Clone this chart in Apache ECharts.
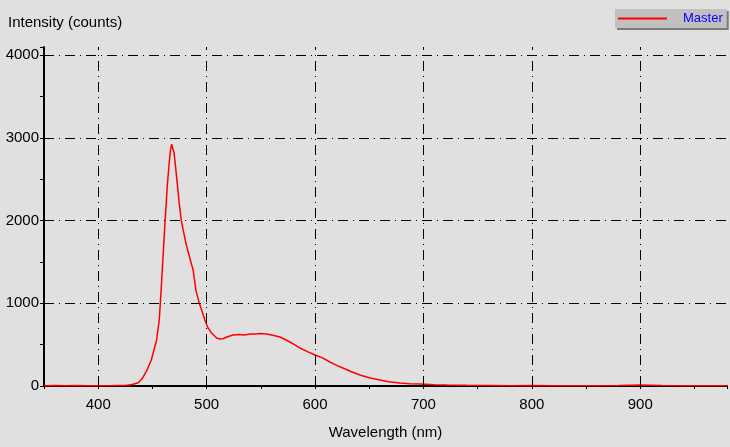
<!DOCTYPE html>
<html>
<head>
<meta charset="utf-8">
<script src="https://cdn.jsdelivr.net/npm/echarts@6/dist/echarts.min.js"></script>
<style>
html,body{margin:0;padding:0;background:#e0e0e0;}
#c{width:730px;height:447px;}
</style>
</head>
<body>
<div id="c"></div>
<script>
// Wavelength (nm)
const wavelengths = [350,360,370,380,390,400,410,420,425,430,433,437,441,445,449,451.4,453.9,456.3,457.1,458,459,460,461,461.7,462.7,463.7,465.5,466.6,467.7,468.4,469.2,470,471,472.9,474.7,476.6,478.5,480.3,482.5,485.5,487.6,490.1,493.2,495.4,498.4,500.9,504.6,509.2,512.3,515,518.7,524.3,530,535,540,545,550,555,560,567.6,572,576.8,581,586.1,593,600,607,613.7,620,625.7,633,641.4,650,659.9,668,678.3,687,696.8,710,721.7,740,760,780,800,820,840,860,880,890,900,910,920,940,960,980];
// Intensity (counts)
const intensity = [3,6,2,5,3,4,2,6,5,14,24,40,97,193,314,435,556,800,960,1150,1380,1610,1840,2000,2200,2420,2700,2840,2925,2890,2905,2820,2695,2453,2212,2006,1880,1764,1644,1500,1402,1160,1003,918,798,713,640,580,568,572,592,616,622,618,628,630,635,628,618,592,565,532,500,459,415,375,340,290,250,218,175,133,100,72,52,36,28,24,16,12,8,6,4,5,3,4,3,7,10,12,9,6,3,2,2];
const xGridValues = [400,500,600,700,800,900];
const yGridValues = [1000,2000,3000,4000];
const seriesName = 'Master';

const chart = echarts.init(document.getElementById('c'), null, {renderer:'canvas'});
const font = 'Liberation Sans, Arial, sans-serif';
const dash = [10,5,1,5];
chart.setOption({
  backgroundColor:'#e0e0e0',
  animation:false,
  textStyle:{fontFamily:font},
  title:{text:'Intensity (counts)', left:8, top:15, padding:0,
    textStyle:{fontFamily:font, fontSize:15, fontWeight:'normal', color:'#000'}},
  legend:{data:[{name:seriesName, icon:'rect'}], left:615, top:9, padding:[3,4,3,3],
    itemWidth:49, itemHeight:2, backgroundColor:'#c0c0c0',
    shadowColor:'#7a7a7a', shadowOffsetX:2, shadowOffsetY:2, shadowBlur:0,
    textStyle:{color:'#0000ff', fontSize:13, fontFamily:font, padding:[0,0,0,11]}},
  grid:{left:44, right:3, top:47, bottom:61},
  xAxis:{type:'value', min:350, max:980, interval:50,
    name:'Wavelength (nm)', nameLocation:'middle', nameGap:39,
    nameTextStyle:{fontFamily:font, fontSize:15, color:'#000'},
    axisLine:{lineStyle:{color:'#000', width:2}},
    axisTick:{length:3, lineStyle:{color:'#000'}},
    axisLabel:{margin:11, color:'#000', fontSize:15, fontFamily:font,
      formatter:v=> (v%100===0 ? String(v) : '')},
    splitLine:{show:false}},
  yAxis:{type:'value', min:0, max:4100, interval:500,
    axisLine:{show:true, lineStyle:{color:'#000', width:2}},
    axisTick:{show:true, length:4, lineStyle:{color:'#000'}},
    axisLabel:{margin:5, color:'#000', fontSize:15, fontFamily:font,
      formatter:v=> (v%1000===0 ? String(v) : '')},
    splitLine:{show:false}},
  series:[
    {name:'grid', type:'line', data:[], z:1, silent:true,
     markLine:{silent:true, symbol:['none','none'], label:{show:false},
       lineStyle:{color:'#000', width:1, type:dash},
       data:[...xGridValues.map(v=>({xAxis:v})), ...yGridValues.map(v=>({yAxis:v}))]}},
    {name:seriesName, type:'line', z:3, showSymbol:false, symbol:'none',
     data:wavelengths.map((w,i)=>[w,intensity[i]]),
     lineStyle:{color:'#ff0000', width:1.5}, itemStyle:{color:'#ff0000'}}
  ]
});
</script>
</body>
</html>
